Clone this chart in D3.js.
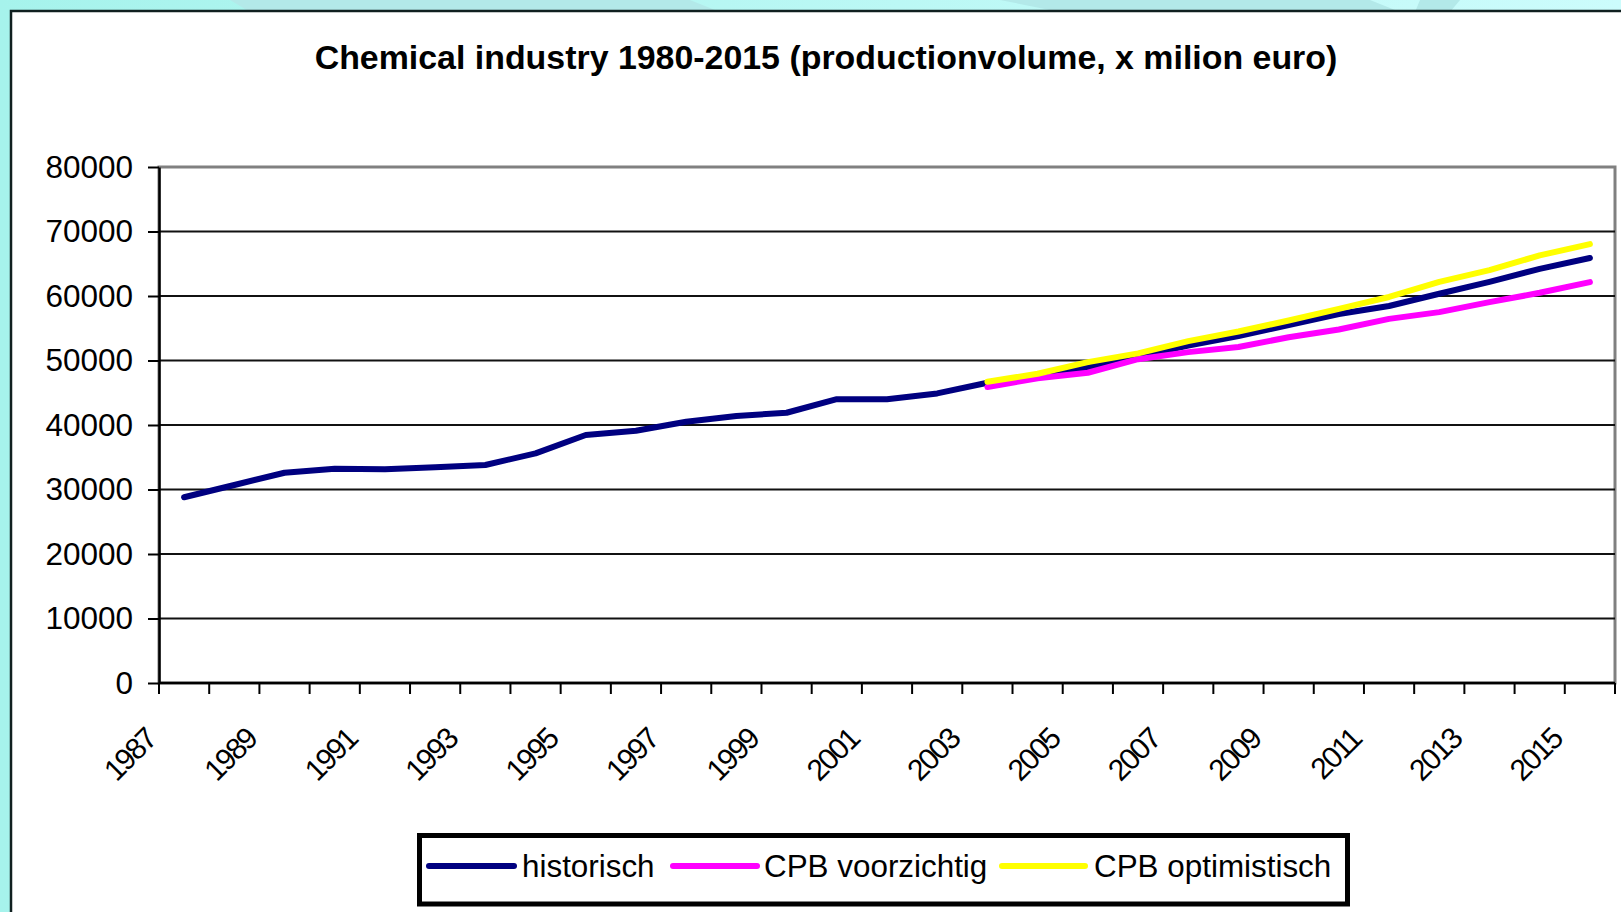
<!DOCTYPE html>
<html>
<head>
<meta charset="utf-8">
<script src="https://cdn.jsdelivr.net/npm/d3@7"></script>
<style>
  body { margin: 0; overflow: hidden; }
  .chart { width: 1621px; height: 912px; }
  text { font-family: "Liberation Sans", Arial, sans-serif; fill: #000; }
</style>
</head>
<body>
<div class="chart"></div>
<script>
//==================================
// Data
//==================================
var years = [1987, 1988, 1989, 1990, 1991, 1992, 1993, 1994, 1995, 1996,
	1997, 1998, 1999, 2000, 2001, 2002, 2003, 2004, 2005, 2006,
	2007, 2008, 2009, 2010, 2011, 2012, 2013, 2014, 2015];

var historisch = [28800, 30700, 32600, 33200, 33150, 33450, 33800, 35600, 38450, 39100,
	40500, 41400, 41900, 44000, 44000, 44900, 46550, 47600, 48900, 50600,
	52300, 53800, 55500, 57200, 58450, 60350, 62200, 64200, 65900];

// the forecasts start in 2003
var voorzichtig = [null, null, null, null, null, null, null, null, null, null,
	null, null, null, null, null, null, 45900, 47250, 48100, 50200,
	51300, 52100, 53600, 54800, 56450, 57500, 59050, 60500, 62150];

var optimistisch = [null, null, null, null, null, null, null, null, null, null,
	null, null, null, null, null, null, 46700, 47950, 49750, 51100,
	53000, 54500, 56200, 58000, 59850, 62200, 64000, 66300, 68050];

var yTicks = [0, 10000, 20000, 30000, 40000, 50000, 60000, 70000, 80000];
var xLabels = [1987, 1989, 1991, 1993, 1995, 1997, 1999, 2001, 2003, 2005,
	2007, 2009, 2011, 2013, 2015];

var seriesNames = ["historisch", "CPB voorzichtig", "CPB optimistisch"];
var seriesColors = ["#000080", "#ff00ff", "#ffff00"];

//==================================
// Set up our chart
//==================================
var svgWidth = 1621;
var svgHeight = 912;

var plot = { left: 159, right: 1615, top: 167, bottom: 683 };

var svg = d3
	.select(".chart")
	.append("svg")
	.attr("width", svgWidth)
	.attr("height", svgHeight);

// slide background
var defs = svg.append("defs");
var grad = defs.append("linearGradient").attr("id", "bg").attr("x1", "0").attr("x2", "1");
grad.append("stop").attr("offset", "0%").attr("stop-color", "#a6f3ec");
grad.append("stop").attr("offset", "100%").attr("stop-color", "#ccfcfc");

svg.append("rect")
	.attr("width", svgWidth)
	.attr("height", svgHeight)
	.attr("fill", "url(#bg)");

// a few pale streaks along the top
var streaks = [
	"M230,0 L690,0 L720,12 L250,12 Z",
	"M1000,0 L1370,0 L1400,12 L1060,12 Z",
	"M1420,0 L1460,0 L1450,12 L1415,12 Z"
];
svg.selectAll(".streak")
	.data(streaks)
	.enter()
	.append("path")
	.attr("class", "streak")
	.attr("d", function(d) { return d; })
	.attr("fill", "#b3e9e9");

// chart area (runs off the right and bottom of the picture)
svg.append("rect")
	.attr("x", 11)
	.attr("y", 11)
	.attr("width", 1660)
	.attr("height", 960)
	.attr("fill", "#fff")
	.attr("stroke", "#102020")
	.attr("stroke-width", 2.5);

// title
svg.append("text")
	.attr("x", 826)
	.attr("y", 69)
	.attr("text-anchor", "middle")
	.style("font-size", "33.9px")
	.style("font-weight", "bold")
	.text("Chemical industry 1980-2015 (productionvolume, x milion euro)");

// Create scale functions
var xScale = d3.scaleBand().domain(years).range([plot.left, plot.right]).padding(0);
var yScale = d3.scaleLinear().domain([0, 80000]).range([plot.bottom, plot.top]);

var chart = svg.append("g");

// plot area border (grey)
chart.append("rect")
	.attr("x", plot.left)
	.attr("y", plot.top)
	.attr("width", plot.right - plot.left)
	.attr("height", plot.bottom - plot.top)
	.attr("fill", "none")
	.attr("stroke", "#808080")
	.attr("stroke-width", 3);

// horizontal gridlines
chart.selectAll(".grid")
	.data(yTicks.filter(function(d) { return d > 0 && d < 80000; }))
	.enter()
	.append("line")
	.attr("class", "grid")
	.attr("x1", plot.left)
	.attr("x2", plot.right)
	.attr("y1", function(d) { return yScale(d); })
	.attr("y2", function(d) { return yScale(d); })
	.attr("stroke", "#111")
	.attr("stroke-width", 2);

// y axis
var leftAxis = d3.axisLeft(yScale)
	.tickValues(yTicks)
	.tickFormat(d3.format("d"))
	.tickSize(11)
	.tickSizeOuter(0)
	.tickPadding(15);

var yAxisG = chart.append("g")
	.attr("transform", "translate(" + plot.left + ",0)")
	.call(leftAxis);
yAxisG.select(".domain").attr("stroke", "#000").attr("stroke-width", 2.5);
yAxisG.selectAll(".tick line").attr("stroke", "#000").attr("stroke-width", 2);
yAxisG.selectAll(".tick text")
	.style("font-size", "31.5px")
	.style("font-family", "'Liberation Sans', Arial, sans-serif")
	.attr("fill", "#000");

// x axis: ticks sit between the categories
chart.append("line")
	.attr("x1", plot.left)
	.attr("x2", plot.right)
	.attr("y1", plot.bottom)
	.attr("y2", plot.bottom)
	.attr("stroke", "#000")
	.attr("stroke-width", 2.5);

var tickPos = years.map(function(y) { return xScale(y); }).concat([xScale.range()[1]]);
chart.selectAll(".xtick")
	.data(tickPos)
	.enter()
	.append("line")
	.attr("class", "xtick")
	.attr("x1", function(d) { return d; })
	.attr("x2", function(d) { return d; })
	.attr("y1", plot.bottom)
	.attr("y2", plot.bottom + 11)
	.attr("stroke", "#000")
	.attr("stroke-width", 2);

chart.selectAll(".xlabel")
	.data(xLabels)
	.enter()
	.append("text")
	.attr("class", "xlabel")
	.attr("text-anchor", "end")
	.attr("transform", function(d) {
		return "translate(" + (xScale(d) - 1) + "," + (plot.bottom + 58) + ") rotate(-45)";
	})
	.style("font-size", "30px")
	.style("letter-spacing", "-2px")
	.text(function(d) { return d; });

// lines
var line = d3.line()
	.defined(function(d) { return d.value !== null; })
	.x(function(d) { return xScale(d.year) + xScale.bandwidth() / 2; })
	.y(function(d) { return yScale(d.value); });

var allSeries = [historisch, voorzichtig, optimistisch];
allSeries.forEach(function(values, i) {
	var points = years.map(function(y, j) { return { year: y, value: values[j] }; });
	chart.append("path")
		.datum(points)
		.attr("d", line)
		.attr("fill", "none")
		.attr("stroke", seriesColors[i])
		.attr("stroke-width", 6)
		.attr("stroke-linecap", "round")
		.attr("stroke-linejoin", "round");
});

// legend
var legend = svg.append("g");
legend.append("rect")
	.attr("x", 419.5)
	.attr("y", 835.5)
	.attr("width", 928)
	.attr("height", 68.5)
	.attr("fill", "#fff")
	.attr("stroke", "#000")
	.attr("stroke-width", 5);

var legendItems = [
	{ x1: 429, x2: 514, tx: 522 },
	{ x1: 673, x2: 757, tx: 764 },
	{ x1: 1002, x2: 1085, tx: 1094 }
];

legendItems.forEach(function(item, i) {
	legend.append("line")
		.attr("x1", item.x1)
		.attr("x2", item.x2)
		.attr("y1", 866)
		.attr("y2", 866)
		.attr("stroke", seriesColors[i])
		.attr("stroke-width", 6)
		.attr("stroke-linecap", "round");
	legend.append("text")
		.attr("x", item.tx)
		.attr("y", 877)
		.style("font-size", "31.4px")
		.text(seriesNames[i]);
});
</script>
</body>
</html>
